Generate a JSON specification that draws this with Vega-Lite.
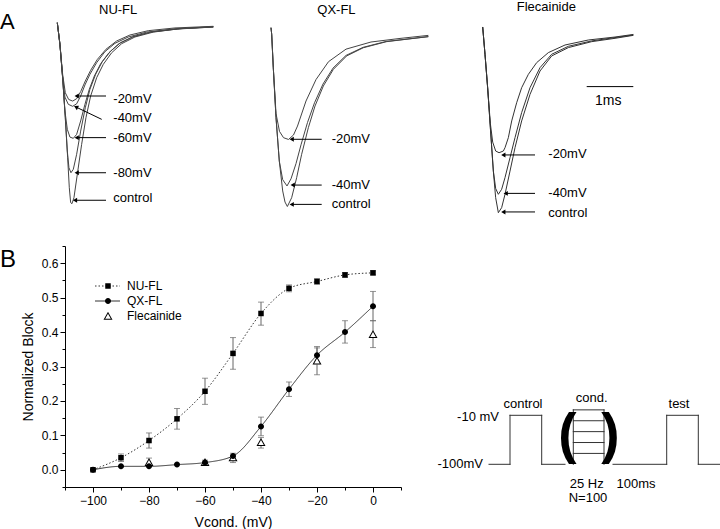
{
  "$schema": "https://vega.github.io/schema/vega-lite/v6.json",
  "padding": 0,
  "autosize": {"type": "pad"},
  "config": {
    "view": {"stroke": null},
    "font": "Liberation Sans",
    "axis": {"grid": false, "domainColor": "black", "tickColor": "black", "labelColor": "black", "titleColor": "black", "titleFontWeight": "normal", "labelFontSize": 12, "titleFontSize": 14, "labelOverlap": false, "labelFlush": false, "tickCount": 30}
  },
  "datasets": {
    "traces": [
      {"panel":"NU-FL","trace":"control","t":0,"I":0},{"panel":"NU-FL","trace":"control","t":0.053,"I":-0.12},{"panel":"NU-FL","trace":"control","t":0.107,"I":-0.304},{"panel":"NU-FL","trace":"control","t":0.16,"I":-0.525},{"panel":"NU-FL","trace":"control","t":0.207,"I":-0.746},{"panel":"NU-FL","trace":"control","t":0.24,"I":-0.912},{"panel":"NU-FL","trace":"control","t":0.267,"I":-0.994},{"panel":"NU-FL","trace":"control","t":0.293,"I":-1.0},{"panel":"NU-FL","trace":"control","t":0.333,"I":-0.967},{"panel":"NU-FL","trace":"control","t":0.4,"I":-0.838},{"panel":"NU-FL","trace":"control","t":0.487,"I":-0.672},{"panel":"NU-FL","trace":"control","t":0.573,"I":-0.525},{"panel":"NU-FL","trace":"control","t":0.667,"I":-0.405},{"panel":"NU-FL","trace":"control","t":0.787,"I":-0.304},{"panel":"NU-FL","trace":"control","t":0.92,"I":-0.23},{"panel":"NU-FL","trace":"control","t":1.087,"I":-0.166},{"panel":"NU-FL","trace":"control","t":1.287,"I":-0.116},{"panel":"NU-FL","trace":"control","t":1.553,"I":-0.079},{"panel":"NU-FL","trace":"control","t":1.92,"I":-0.052},{"panel":"NU-FL","trace":"control","t":2.453,"I":-0.033},{"panel":"NU-FL","trace":"control","t":3.12,"I":-0.022},
      {"panel":"NU-FL","trace":"-80mV","t":0,"I":0},{"panel":"NU-FL","trace":"-80mV","t":0.053,"I":-0.12},{"panel":"NU-FL","trace":"-80mV","t":0.107,"I":-0.304},{"panel":"NU-FL","trace":"-80mV","t":0.16,"I":-0.525},{"panel":"NU-FL","trace":"-80mV","t":0.2,"I":-0.709},{"panel":"NU-FL","trace":"-80mV","t":0.233,"I":-0.801},{"panel":"NU-FL","trace":"-80mV","t":0.273,"I":-0.829},{"panel":"NU-FL","trace":"-80mV","t":0.32,"I":-0.81},{"panel":"NU-FL","trace":"-80mV","t":0.387,"I":-0.727},{"panel":"NU-FL","trace":"-80mV","t":0.467,"I":-0.599},{"panel":"NU-FL","trace":"-80mV","t":0.56,"I":-0.47},{"panel":"NU-FL","trace":"-80mV","t":0.653,"I":-0.368},{"panel":"NU-FL","trace":"-80mV","t":0.767,"I":-0.285},{"panel":"NU-FL","trace":"-80mV","t":0.9,"I":-0.215},{"panel":"NU-FL","trace":"-80mV","t":1.067,"I":-0.157},{"panel":"NU-FL","trace":"-80mV","t":1.267,"I":-0.11},{"panel":"NU-FL","trace":"-80mV","t":1.533,"I":-0.076},{"panel":"NU-FL","trace":"-80mV","t":1.9,"I":-0.05},{"panel":"NU-FL","trace":"-80mV","t":2.433,"I":-0.033},{"panel":"NU-FL","trace":"-80mV","t":3.12,"I":-0.022},
      {"panel":"NU-FL","trace":"-60mV","t":0,"I":0},{"panel":"NU-FL","trace":"-60mV","t":0.053,"I":-0.12},{"panel":"NU-FL","trace":"-60mV","t":0.107,"I":-0.304},{"panel":"NU-FL","trace":"-60mV","t":0.153,"I":-0.488},{"panel":"NU-FL","trace":"-60mV","t":0.2,"I":-0.589},{"panel":"NU-FL","trace":"-60mV","t":0.253,"I":-0.632},{"panel":"NU-FL","trace":"-60mV","t":0.32,"I":-0.639},{"panel":"NU-FL","trace":"-60mV","t":0.387,"I":-0.617},{"panel":"NU-FL","trace":"-60mV","t":0.467,"I":-0.543},{"panel":"NU-FL","trace":"-60mV","t":0.553,"I":-0.451},{"panel":"NU-FL","trace":"-60mV","t":0.64,"I":-0.368},{"panel":"NU-FL","trace":"-60mV","t":0.74,"I":-0.295},{"panel":"NU-FL","trace":"-60mV","t":0.867,"I":-0.227},{"panel":"NU-FL","trace":"-60mV","t":1.033,"I":-0.166},{"panel":"NU-FL","trace":"-60mV","t":1.233,"I":-0.116},{"panel":"NU-FL","trace":"-60mV","t":1.5,"I":-0.079},{"panel":"NU-FL","trace":"-60mV","t":1.867,"I":-0.052},{"panel":"NU-FL","trace":"-60mV","t":2.4,"I":-0.035},{"panel":"NU-FL","trace":"-60mV","t":3.12,"I":-0.024},
      {"panel":"NU-FL","trace":"-40mV","t":0,"I":0},{"panel":"NU-FL","trace":"-40mV","t":0.053,"I":-0.12},{"panel":"NU-FL","trace":"-40mV","t":0.107,"I":-0.304},{"panel":"NU-FL","trace":"-40mV","t":0.153,"I":-0.411},{"panel":"NU-FL","trace":"-40mV","t":0.22,"I":-0.451},{"panel":"NU-FL","trace":"-40mV","t":0.307,"I":-0.462},{"panel":"NU-FL","trace":"-40mV","t":0.387,"I":-0.448},{"panel":"NU-FL","trace":"-40mV","t":0.467,"I":-0.405},{"panel":"NU-FL","trace":"-40mV","t":0.553,"I":-0.344},{"panel":"NU-FL","trace":"-40mV","t":0.653,"I":-0.285},{"panel":"NU-FL","trace":"-40mV","t":0.787,"I":-0.221},{"panel":"NU-FL","trace":"-40mV","t":0.953,"I":-0.16},{"panel":"NU-FL","trace":"-40mV","t":1.153,"I":-0.114},{"panel":"NU-FL","trace":"-40mV","t":1.42,"I":-0.079},{"panel":"NU-FL","trace":"-40mV","t":1.787,"I":-0.052},{"panel":"NU-FL","trace":"-40mV","t":2.32,"I":-0.035},{"panel":"NU-FL","trace":"-40mV","t":3.12,"I":-0.024},
      {"panel":"NU-FL","trace":"-20mV","t":0,"I":0},{"panel":"NU-FL","trace":"-20mV","t":0.053,"I":-0.12},{"panel":"NU-FL","trace":"-20mV","t":0.107,"I":-0.285},{"panel":"NU-FL","trace":"-20mV","t":0.16,"I":-0.387},{"panel":"NU-FL","trace":"-20mV","t":0.227,"I":-0.424},{"panel":"NU-FL","trace":"-20mV","t":0.307,"I":-0.433},{"panel":"NU-FL","trace":"-20mV","t":0.387,"I":-0.42},{"panel":"NU-FL","trace":"-20mV","t":0.467,"I":-0.381},{"panel":"NU-FL","trace":"-20mV","t":0.56,"I":-0.322},{"panel":"NU-FL","trace":"-20mV","t":0.667,"I":-0.263},{"panel":"NU-FL","trace":"-20mV","t":0.8,"I":-0.203},{"panel":"NU-FL","trace":"-20mV","t":0.973,"I":-0.147},{"panel":"NU-FL","trace":"-20mV","t":1.187,"I":-0.101},{"panel":"NU-FL","trace":"-20mV","t":1.453,"I":-0.068},{"panel":"NU-FL","trace":"-20mV","t":1.82,"I":-0.044},{"panel":"NU-FL","trace":"-20mV","t":2.353,"I":-0.029},{"panel":"NU-FL","trace":"-20mV","t":3.12,"I":-0.02},
      {"panel":"QX-FL","trace":"control","t":0,"I":0},{"panel":"QX-FL","trace":"control","t":0.014,"I":-0.037},{"panel":"QX-FL","trace":"control","t":0.046,"I":-0.224},{"panel":"QX-FL","trace":"control","t":0.1,"I":-0.503},{"panel":"QX-FL","trace":"control","t":0.166,"I":-0.746},{"panel":"QX-FL","trace":"control","t":0.234,"I":-0.913},{"panel":"QX-FL","trace":"control","t":0.28,"I":-0.975},{"panel":"QX-FL","trace":"control","t":0.327,"I":-1.0},{"panel":"QX-FL","trace":"control","t":0.413,"I":-0.951},{"panel":"QX-FL","trace":"control","t":0.513,"I":-0.839},{"panel":"QX-FL","trace":"control","t":0.613,"I":-0.708},{"panel":"QX-FL","trace":"control","t":0.747,"I":-0.559},{"panel":"QX-FL","trace":"control","t":0.88,"I":-0.438},{"panel":"QX-FL","trace":"control","t":1.047,"I":-0.326},{"panel":"QX-FL","trace":"control","t":1.247,"I":-0.233},{"panel":"QX-FL","trace":"control","t":1.513,"I":-0.158},{"panel":"QX-FL","trace":"control","t":1.847,"I":-0.112},{"panel":"QX-FL","trace":"control","t":2.313,"I":-0.078},{"panel":"QX-FL","trace":"control","t":3.147,"I":-0.05},
      {"panel":"QX-FL","trace":"-40mV","t":0,"I":0},{"panel":"QX-FL","trace":"-40mV","t":0.014,"I":-0.037},{"panel":"QX-FL","trace":"-40mV","t":0.046,"I":-0.224},{"panel":"QX-FL","trace":"-40mV","t":0.1,"I":-0.503},{"panel":"QX-FL","trace":"-40mV","t":0.166,"I":-0.746},{"panel":"QX-FL","trace":"-40mV","t":0.234,"I":-0.85},{"panel":"QX-FL","trace":"-40mV","t":0.32,"I":-0.885},{"panel":"QX-FL","trace":"-40mV","t":0.4,"I":-0.845},{"panel":"QX-FL","trace":"-40mV","t":0.5,"I":-0.76},{"panel":"QX-FL","trace":"-40mV","t":0.6,"I":-0.655},{"panel":"QX-FL","trace":"-40mV","t":0.73,"I":-0.53},{"panel":"QX-FL","trace":"-40mV","t":0.87,"I":-0.42},{"panel":"QX-FL","trace":"-40mV","t":1.04,"I":-0.315},{"panel":"QX-FL","trace":"-40mV","t":1.24,"I":-0.226},{"panel":"QX-FL","trace":"-40mV","t":1.5,"I":-0.155},{"panel":"QX-FL","trace":"-40mV","t":1.84,"I":-0.11},{"panel":"QX-FL","trace":"-40mV","t":2.3,"I":-0.077},{"panel":"QX-FL","trace":"-40mV","t":3.147,"I":-0.05},
      {"panel":"QX-FL","trace":"-20mV","t":0,"I":0},{"panel":"QX-FL","trace":"-20mV","t":0.014,"I":-0.037},{"panel":"QX-FL","trace":"-20mV","t":0.046,"I":-0.224},{"panel":"QX-FL","trace":"-20mV","t":0.1,"I":-0.48},{"panel":"QX-FL","trace":"-20mV","t":0.17,"I":-0.58},{"panel":"QX-FL","trace":"-20mV","t":0.25,"I":-0.615},{"panel":"QX-FL","trace":"-20mV","t":0.35,"I":-0.625},{"panel":"QX-FL","trace":"-20mV","t":0.45,"I":-0.6},{"panel":"QX-FL","trace":"-20mV","t":0.53,"I":-0.55},{"panel":"QX-FL","trace":"-20mV","t":0.7,"I":-0.41},{"panel":"QX-FL","trace":"-20mV","t":0.9,"I":-0.29},{"panel":"QX-FL","trace":"-20mV","t":1.15,"I":-0.19},{"panel":"QX-FL","trace":"-20mV","t":1.5,"I":-0.12},{"panel":"QX-FL","trace":"-20mV","t":2.0,"I":-0.08},{"panel":"QX-FL","trace":"-20mV","t":2.58,"I":-0.06},{"panel":"QX-FL","trace":"-20mV","t":3.147,"I":-0.043},
      {"panel":"Flecainide","trace":"control","t":0,"I":0},{"panel":"Flecainide","trace":"control","t":0.046,"I":-0.147},{"panel":"Flecainide","trace":"control","t":0.099,"I":-0.327},{"panel":"Flecainide","trace":"control","t":0.153,"I":-0.542},{"panel":"Flecainide","trace":"control","t":0.213,"I":-0.776},{"panel":"Flecainide","trace":"control","t":0.259,"I":-0.919},{"panel":"Flecainide","trace":"control","t":0.313,"I":-1.0},{"panel":"Flecainide","trace":"control","t":0.379,"I":-0.973},{"panel":"Flecainide","trace":"control","t":0.446,"I":-0.901},{"panel":"Flecainide","trace":"control","t":0.546,"I":-0.776},{"panel":"Flecainide","trace":"control","t":0.646,"I":-0.65},{"panel":"Flecainide","trace":"control","t":0.779,"I":-0.506},{"panel":"Flecainide","trace":"control","t":0.946,"I":-0.363},{"panel":"Flecainide","trace":"control","t":1.146,"I":-0.237},{"panel":"Flecainide","trace":"control","t":1.379,"I":-0.156},{"panel":"Flecainide","trace":"control","t":1.713,"I":-0.111},{"panel":"Flecainide","trace":"control","t":2.179,"I":-0.079},{"panel":"Flecainide","trace":"control","t":2.646,"I":-0.061},{"panel":"Flecainide","trace":"control","t":3.013,"I":-0.045},
      {"panel":"Flecainide","trace":"-40mV","t":0,"I":0},{"panel":"Flecainide","trace":"-40mV","t":0.046,"I":-0.147},{"panel":"Flecainide","trace":"-40mV","t":0.099,"I":-0.327},{"panel":"Flecainide","trace":"-40mV","t":0.153,"I":-0.542},{"panel":"Flecainide","trace":"-40mV","t":0.213,"I":-0.776},{"panel":"Flecainide","trace":"-40mV","t":0.26,"I":-0.87},{"panel":"Flecainide","trace":"-40mV","t":0.313,"I":-0.901},{"panel":"Flecainide","trace":"-40mV","t":0.379,"I":-0.874},{"panel":"Flecainide","trace":"-40mV","t":0.446,"I":-0.811},{"panel":"Flecainide","trace":"-40mV","t":0.546,"I":-0.704},{"panel":"Flecainide","trace":"-40mV","t":0.646,"I":-0.596},{"panel":"Flecainide","trace":"-40mV","t":0.779,"I":-0.461},{"panel":"Flecainide","trace":"-40mV","t":0.946,"I":-0.327},{"panel":"Flecainide","trace":"-40mV","t":1.146,"I":-0.219},{"panel":"Flecainide","trace":"-40mV","t":1.379,"I":-0.147},{"panel":"Flecainide","trace":"-40mV","t":1.713,"I":-0.104},{"panel":"Flecainide","trace":"-40mV","t":2.179,"I":-0.075},{"panel":"Flecainide","trace":"-40mV","t":2.646,"I":-0.057},{"panel":"Flecainide","trace":"-40mV","t":3.013,"I":-0.043},
      {"panel":"Flecainide","trace":"-20mV","t":0,"I":0},{"panel":"Flecainide","trace":"-20mV","t":0.046,"I":-0.147},{"panel":"Flecainide","trace":"-20mV","t":0.099,"I":-0.327},{"panel":"Flecainide","trace":"-20mV","t":0.153,"I":-0.52},{"panel":"Flecainide","trace":"-20mV","t":0.2,"I":-0.62},{"panel":"Flecainide","trace":"-20mV","t":0.26,"I":-0.668},{"panel":"Flecainide","trace":"-20mV","t":0.327,"I":-0.677},{"panel":"Flecainide","trace":"-20mV","t":0.413,"I":-0.668},{"panel":"Flecainide","trace":"-20mV","t":0.446,"I":-0.65},{"panel":"Flecainide","trace":"-20mV","t":0.513,"I":-0.596},{"panel":"Flecainide","trace":"-20mV","t":0.58,"I":-0.506},{"panel":"Flecainide","trace":"-20mV","t":0.679,"I":-0.408},{"panel":"Flecainide","trace":"-20mV","t":0.779,"I":-0.327},{"panel":"Flecainide","trace":"-20mV","t":0.913,"I":-0.255},{"panel":"Flecainide","trace":"-20mV","t":1.079,"I":-0.192},{"panel":"Flecainide","trace":"-20mV","t":1.313,"I":-0.138},{"panel":"Flecainide","trace":"-20mV","t":1.646,"I":-0.097},{"panel":"Flecainide","trace":"-20mV","t":2.113,"I":-0.07},{"panel":"Flecainide","trace":"-20mV","t":2.646,"I":-0.054},{"panel":"Flecainide","trace":"-20mV","t":3.013,"I":-0.04}
    ],
    "arrows": [
      {"panel":"NU-FL","label":"-20mV","t":0.974,"I":-0.405,"t2":0.388,"I2":-0.405,"tl":1.12,"Il":-0.42},
      {"panel":"NU-FL","label":"-40mV","t":0.888,"I":-0.534,"t2":0.374,"I2":-0.466,"tl":1.12,"Il":-0.525},
      {"panel":"NU-FL","label":"-60mV","t":0.974,"I":-0.635,"t2":0.388,"I2":-0.635,"tl":1.12,"Il":-0.637},
      {"panel":"NU-FL","label":"-80mV","t":0.974,"I":-0.829,"t2":0.388,"I2":-0.829,"tl":1.12,"Il":-0.829},
      {"panel":"NU-FL","label":"control","t":0.974,"I":-0.981,"t2":0.354,"I2":-0.981,"tl":1.12,"Il":-0.969},
      {"panel":"QX-FL","label":"-20mV","t":1.014,"I":-0.624,"t2":0.414,"I2":-0.624,"tl":1.214,"Il":-0.624},
      {"panel":"QX-FL","label":"-40mV","t":1.014,"I":-0.88,"t2":0.434,"I2":-0.88,"tl":1.214,"Il":-0.88},
      {"panel":"QX-FL","label":"control","t":1.014,"I":-0.988,"t2":0.414,"I2":-0.988,"tl":1.214,"Il":-0.988},
      {"panel":"Flecainide","label":"-20mV","t":1.046,"I":-0.689,"t2":0.412,"I2":-0.689,"tl":1.312,"Il":-0.682},
      {"panel":"Flecainide","label":"-40mV","t":1.046,"I":-0.896,"t2":0.46,"I2":-0.896,"tl":1.312,"Il":-0.892},
      {"panel":"Flecainide","label":"control","t":1.046,"I":-0.996,"t2":0.412,"I2":-0.996,"tl":1.312,"Il":-1.0}
    ],
    "block": [
      {"series":"NU-FL","V":-100,"mean":0,"lo":null,"hi":null},
      {"series":"NU-FL","V":-90,"mean":0.035,"lo":0.024,"hi":0.046},
      {"series":"NU-FL","V":-80,"mean":0.085,"lo":0.063,"hi":0.107},
      {"series":"NU-FL","V":-70,"mean":0.148,"lo":0.118,"hi":0.178},
      {"series":"NU-FL","V":-60,"mean":0.228,"lo":0.19,"hi":0.266},
      {"series":"NU-FL","V":-50,"mean":0.338,"lo":0.292,"hi":0.384},
      {"series":"NU-FL","V":-40,"mean":0.454,"lo":0.42,"hi":0.487},
      {"series":"NU-FL","V":-30,"mean":0.527,"lo":0.517,"hi":0.537},
      {"series":"NU-FL","V":-20,"mean":0.547,"lo":0.539,"hi":0.555},
      {"series":"NU-FL","V":-10,"mean":0.566,"lo":0.559,"hi":0.573},
      {"series":"NU-FL","V":0,"mean":0.572,"lo":0.566,"hi":0.578},
      {"series":"QX-FL","V":-100,"mean":0,"lo":null,"hi":null},
      {"series":"QX-FL","V":-90,"mean":0.01,"lo":null,"hi":null},
      {"series":"QX-FL","V":-80,"mean":0.01,"lo":null,"hi":null},
      {"series":"QX-FL","V":-70,"mean":0.015,"lo":null,"hi":null},
      {"series":"QX-FL","V":-60,"mean":0.021,"lo":null,"hi":null},
      {"series":"QX-FL","V":-50,"mean":0.04,"lo":null,"hi":null},
      {"series":"QX-FL","V":-40,"mean":0.126,"lo":0.099,"hi":0.153},
      {"series":"QX-FL","V":-30,"mean":0.234,"lo":0.213,"hi":0.255},
      {"series":"QX-FL","V":-20,"mean":0.333,"lo":0.308,"hi":0.358},
      {"series":"QX-FL","V":-10,"mean":0.4,"lo":0.368,"hi":0.433},
      {"series":"QX-FL","V":0,"mean":0.475,"lo":0.433,"hi":0.518},
      {"series":"Flecainide","V":-80,"mean":0.022,"lo":0.012,"hi":0.034},
      {"series":"Flecainide","V":-60,"mean":0.022,"lo":0.016,"hi":0.028},
      {"series":"Flecainide","V":-50,"mean":0.036,"lo":0.021,"hi":0.048},
      {"series":"Flecainide","V":-40,"mean":0.08,"lo":0.063,"hi":0.094},
      {"series":"Flecainide","V":-20,"mean":0.317,"lo":0.276,"hi":0.354},
      {"series":"Flecainide","V":0,"mean":0.394,"lo":0.355,"hi":0.433}
    ],
    "protocol": [
      {"ms":9,"ms2":30,"mV":-100,"mV2":-100},
      {"ms":30,"ms2":30,"mV":-100,"mV2":-10},
      {"ms":30,"ms2":61.7,"mV":-10,"mV2":-10},
      {"ms":61.7,"ms2":61.7,"mV":-10,"mV2":-100},
      {"ms":61.7,"ms2":85,"mV":-100,"mV2":-100},
      {"ms":93.3,"ms2":93.3,"mV":-100,"mV2":0},
      {"ms":124,"ms2":124,"mV":-100,"mV2":0},
      {"ms":93.3,"ms2":124,"mV":0,"mV2":0},
      {"ms":93.3,"ms2":124,"mV":-20,"mV2":-20},
      {"ms":93.3,"ms2":124,"mV":-40,"mV2":-40},
      {"ms":93.3,"ms2":124,"mV":-60,"mV2":-60},
      {"ms":93.3,"ms2":124,"mV":-80,"mV2":-80},
      {"ms":133,"ms2":186.7,"mV":-100,"mV2":-100},
      {"ms":186.7,"ms2":186.7,"mV":-100,"mV2":-10},
      {"ms":186.7,"ms2":218.3,"mV":-10,"mV2":-10},
      {"ms":218.3,"ms2":218.3,"mV":-10,"mV2":-100},
      {"ms":218.3,"ms2":240,"mV":-100,"mV2":-100}
    ],
    "protocolLabels": [
      {"text":"control","ms":43,"mV":11.3},
      {"text":"cond.","ms":111.7,"mV":22.3},
      {"text":"test","ms":199,"mV":11.3},
      {"text":"25 Hz","ms":106.7,"mV":-135.6},
      {"text":"N=100","ms":108,"mV":-161.4},
      {"text":"100ms","ms":156,"mV":-135.6}
    ],
    "protocolLevels": [
      {"text":"-10 mV","ms":19,"mV":-13.1},
      {"text":"-100mV","ms":3,"mV":-100}
    ],
    "brackets": [
      {"text":"(","ms":87.5,"mV":-46.2},
      {"text":")","ms":130.5,"mV":-46.2}
    ]
  },
  "spacing": 20,
  "resolve": {"legend": {"shape": "independent", "strokeDash": "independent"}},
  "vconcat": [
    {
      "bounds": "flush",
      "spacing": 45,
      "hconcat": [
        {
          "width": 155, "height": 200,
          "layer": [
            {"data": {"name": "traces"}, "transform": [{"filter": "datum.panel === 'NU-FL'"}],
             "mark": {"type": "line", "stroke": "#444", "strokeWidth": 1},
             "encoding": {"x": {"field": "t", "type": "quantitative", "scale": {"domain": [0.154, 3.254], "nice": false, "zero": false}, "axis": null},
                          "y": {"field": "I", "type": "quantitative", "scale": {"domain": [-1.068, 0.037], "nice": false, "zero": false}, "axis": null},
                          "detail": {"field": "trace"}}},
            {"data": {"name": "arrows"}, "transform": [{"filter": "datum.panel === 'NU-FL'"}],
             "mark": {"type": "rule", "color": "black", "strokeWidth": 1},
             "encoding": {"x": {"field": "t", "type": "quantitative"}, "x2": {"field": "t2"}, "y": {"field": "I", "type": "quantitative"}, "y2": {"field": "I2"}}},
            {"data": {"name": "arrows"}, "transform": [{"filter": "datum.panel === 'NU-FL'"}],
             "mark": {"type": "point", "shape": "triangle-left", "filled": true, "color": "black", "size": 24, "opacity": 1},
             "encoding": {"x": {"field": "t2", "type": "quantitative"}, "y": {"field": "I2", "type": "quantitative"},
                          "angle": {"condition": {"test": "datum.label === '-40mV'", "value": 26}, "value": 0}}},
            {"data": {"name": "arrows"}, "transform": [{"filter": "datum.panel === 'NU-FL'"}],
             "mark": {"type": "text", "align": "left", "baseline": "middle", "fontSize": 13, "color": "black"},
             "encoding": {"x": {"field": "tl", "type": "quantitative"}, "y": {"field": "Il", "type": "quantitative"}, "text": {"field": "label"}}},
            {"data": {"values": [{}]},
             "mark": {"type": "text", "text": "A", "align": "left", "baseline": "alphabetic", "fontSize": 22, "color": "black"},
             "encoding": {"x": {"datum": -1.146, "type": "quantitative"}, "y": {"datum": -0.0365, "type": "quantitative"}}},
            {"data": {"values": [{}]},
             "mark": {"type": "text", "text": "NU-FL", "align": "left", "baseline": "alphabetic", "fontSize": 13, "color": "black"},
             "encoding": {"x": {"datum": 0.834, "type": "quantitative"}, "y": {"datum": 0.0508, "type": "quantitative"}}}
          ]
        },
        {
          "width": 170, "height": 200,
          "layer": [
            {"data": {"name": "traces"}, "transform": [{"filter": "datum.panel === 'QX-FL'"}],
             "mark": {"type": "line", "stroke": "#444", "strokeWidth": 1},
             "encoding": {"x": {"field": "t", "type": "quantitative", "scale": {"domain": [-0.12, 3.28], "nice": false, "zero": false}, "axis": null},
                          "y": {"field": "I", "type": "quantitative", "scale": {"domain": [-1.053, 0.0654], "nice": false, "zero": false}, "axis": null},
                          "detail": {"field": "trace"}}},
            {"data": {"name": "arrows"}, "transform": [{"filter": "datum.panel === 'QX-FL'"}],
             "mark": {"type": "rule", "color": "black", "strokeWidth": 1},
             "encoding": {"x": {"field": "t", "type": "quantitative"}, "x2": {"field": "t2"}, "y": {"field": "I", "type": "quantitative"}, "y2": {"field": "I2"}}},
            {"data": {"name": "arrows"}, "transform": [{"filter": "datum.panel === 'QX-FL'"}],
             "mark": {"type": "point", "shape": "triangle-left", "filled": true, "color": "black", "size": 24, "opacity": 1},
             "encoding": {"x": {"field": "t2", "type": "quantitative"}, "y": {"field": "I2", "type": "quantitative"}}},
            {"data": {"name": "arrows"}, "transform": [{"filter": "datum.panel === 'QX-FL'"}],
             "mark": {"type": "text", "align": "left", "baseline": "middle", "fontSize": 13, "color": "black"},
             "encoding": {"x": {"field": "tl", "type": "quantitative"}, "y": {"field": "Il", "type": "quantitative"}, "text": {"field": "label"}}},
            {"data": {"values": [{}]},
             "mark": {"type": "text", "text": "QX-FL", "align": "left", "baseline": "alphabetic", "fontSize": 13, "color": "black"},
             "encoding": {"x": {"datum": 0.926, "type": "quantitative"}, "y": {"datum": 0.0766, "type": "quantitative"}}}
          ]
        },
        {
          "width": 170, "height": 200,
          "layer": [
            {"data": {"name": "traces"}, "transform": [{"filter": "datum.panel === 'Flecainide'"}],
             "mark": {"type": "line", "stroke": "#333", "strokeWidth": 1},
             "encoding": {"x": {"field": "t", "type": "quantitative", "scale": {"domain": [-0.054, 3.346], "nice": false, "zero": false}, "axis": null},
                          "y": {"field": "I", "type": "quantitative", "scale": {"domain": [-1.0178, 0.0592], "nice": false, "zero": false}, "axis": null},
                          "detail": {"field": "trace"}}},
            {"data": {"name": "arrows"}, "transform": [{"filter": "datum.panel === 'Flecainide'"}],
             "mark": {"type": "rule", "color": "black", "strokeWidth": 1},
             "encoding": {"x": {"field": "t", "type": "quantitative"}, "x2": {"field": "t2"}, "y": {"field": "I", "type": "quantitative"}, "y2": {"field": "I2"}}},
            {"data": {"name": "arrows"}, "transform": [{"filter": "datum.panel === 'Flecainide'"}],
             "mark": {"type": "point", "shape": "triangle-left", "filled": true, "color": "black", "size": 24, "opacity": 1},
             "encoding": {"x": {"field": "t2", "type": "quantitative"}, "y": {"field": "I2", "type": "quantitative"}}},
            {"data": {"name": "arrows"}, "transform": [{"filter": "datum.panel === 'Flecainide'"}],
             "mark": {"type": "text", "align": "left", "baseline": "middle", "fontSize": 13, "color": "black"},
             "encoding": {"x": {"field": "tl", "type": "quantitative"}, "y": {"field": "Il", "type": "quantitative"}, "text": {"field": "label"}}},
            {"data": {"values": [{}]},
             "mark": {"type": "rule", "color": "black", "strokeWidth": 1},
             "encoding": {"x": {"datum": 2.08, "type": "quantitative"}, "x2": {"datum": 3.012}, "y": {"datum": -0.321, "type": "quantitative"}}},
            {"data": {"values": [{}]},
             "mark": {"type": "text", "text": "1ms", "align": "center", "baseline": "middle", "fontSize": 14, "color": "black"},
             "encoding": {"x": {"datum": 2.512, "type": "quantitative"}, "y": {"datum": -0.398, "type": "quantitative"}}},
            {"data": {"values": [{}]},
             "mark": {"type": "text", "text": "Flecainide", "align": "left", "baseline": "alphabetic", "fontSize": 13, "color": "black"},
             "encoding": {"x": {"datum": 0.68, "type": "quantitative"}, "y": {"datum": 0.0862, "type": "quantitative"}}}
          ]
        }
      ]
    },
    {
      "bounds": "flush",
      "spacing": 80,
      "resolve": {"legend": {"shape": "independent", "strokeDash": "independent"}},
      "hconcat": [
        {
          "width": 336, "height": 241,
          "layer": [
            {"data": {"name": "block"},
             "mark": {"type": "rule", "color": "#666", "strokeWidth": 1},
             "encoding": {"x": {"field": "V", "type": "quantitative", "scale": {"domain": [-110, 10], "nice": false, "zero": false}},
                          "y": {"field": "lo", "type": "quantitative", "scale": {"domain": [-0.05, 0.65], "nice": false, "zero": false}},
                          "y2": {"field": "hi"}}},
            {"data": {"name": "block"},
             "mark": {"type": "tick", "orient": "horizontal", "color": "#666", "size": 6, "thickness": 1},
             "encoding": {"x": {"field": "V", "type": "quantitative"}, "y": {"field": "lo", "type": "quantitative"}}},
            {"data": {"name": "block"},
             "mark": {"type": "tick", "orient": "horizontal", "color": "#666", "size": 6, "thickness": 1},
             "encoding": {"x": {"field": "V", "type": "quantitative"}, "y": {"field": "hi", "type": "quantitative"}}},
            {"data": {"name": "block"}, "transform": [{"filter": "datum.series !== 'Flecainide'"}],
             "mark": {"type": "line", "interpolate": "monotone", "color": "#333", "strokeWidth": 1},
             "encoding": {"x": {"field": "V", "type": "quantitative", "scale": {"domain": [-110, 10], "nice": false, "zero": false},
                                "axis": {"values": [-110,-100,-90,-80,-70,-60,-50,-40,-30,-20,-10,0,10], "labelExpr": "datum.value % 20 === 0 ? datum.label : ''",
                                         "tickSize": {"condition": {"test": "datum.value % 20 === 0", "value": 5}, "value": 3},
                                         "title": "Vcond. (mV)", "titlePadding": 9, "labelPadding": 3}},
                          "y": {"field": "mean", "type": "quantitative", "scale": {"domain": [-0.05, 0.65], "nice": false, "zero": false},
                                "axis": {"values": [-0.05,0,0.05,0.1,0.15,0.2,0.25,0.3,0.35,0.4,0.45,0.5,0.55,0.6,0.65], "format": ".1f",
                                         "labelExpr": "abs(round(datum.value*20)) % 2 === 0 ? datum.label : ''",
                                         "tickSize": {"condition": {"test": "abs(round(datum.value*20)) % 2 === 0", "value": 5}, "value": 3},
                                         "title": "Normalized Block", "titlePadding": 6, "labelPadding": 2}},
                          "strokeDash": {"field": "series", "type": "nominal", "scale": {"domain": ["NU-FL", "QX-FL"], "range": [[1.5, 2], [1, 0]]},
                                         "legend": {"orient": "none", "legendX": 29.5, "legendY": 33.75, "title": null, "direction": "vertical", "padding": 0,
                                                    "symbolType": "stroke", "symbolSize": 625, "symbolStrokeWidth": 1, "symbolStrokeColor": "#333",
                                                    "clipHeight": 12.5, "rowPadding": 2, "labelOffset": 5, "labelFontSize": 12, "labelOpacity": 0}}}},
            {"data": {"name": "block"}, "transform": [{"filter": "datum.series === 'Flecainide'"}],
             "mark": {"type": "point", "shape": "M0,-0.85L0.9,0.75L-0.9,0.75Z", "filled": true, "color": "white", "size": 100, "opacity": 1},
             "encoding": {"x": {"field": "V", "type": "quantitative"}, "y": {"field": "mean", "type": "quantitative"}}},
            {"data": {"name": "block"},
             "mark": {"type": "point", "filled": true, "color": "black", "size": 100, "opacity": 1},
             "encoding": {"x": {"field": "V", "type": "quantitative"}, "y": {"field": "mean", "type": "quantitative"},
                          "shape": {"field": "series", "type": "nominal",
                                    "scale": {"domain": ["NU-FL", "QX-FL", "Flecainide"],
                                              "range": ["M-0.55,-0.55H0.55V0.55H-0.55Z", "M-0.6,0A0.6,0.6,0,1,0,0.6,0A0.6,0.6,0,1,0,-0.6,0Z", "M0,-0.85L0.9,0.75L-0.9,0.75ZM0,-0.44L-0.56,0.55L0.56,0.55Z"]},
                                    "legend": {"orient": "none", "legendX": 37, "legendY": 33.75, "title": null, "direction": "vertical", "padding": 0,
                                               "symbolSize": 100, "clipHeight": 12.5, "rowPadding": 2, "labelOffset": 13, "labelFontSize": 12, "labelColor": "black",
                                               "symbolFillColor": "black", "symbolStrokeWidth": 0, "symbolOpacity": 1}}}},
            {"data": {"values": [{}]},
             "mark": {"type": "text", "text": "B", "align": "left", "baseline": "alphabetic", "fontSize": 24, "color": "black"},
             "encoding": {"x": {"datum": -133.2, "type": "quantitative"}, "y": {"datum": 0.589, "type": "quantitative"}}}
          ]
        },
        {
          "width": 239, "height": 260,
          "layer": [
            {"data": {"name": "protocol"},
             "mark": {"type": "rule", "color": "#333", "strokeWidth": 1, "strokeCap": "square"},
             "encoding": {"x": {"field": "ms", "type": "quantitative", "scale": {"domain": [1, 240], "nice": false, "zero": false}, "axis": null},
                          "x2": {"field": "ms2"},
                          "y": {"field": "mV", "type": "quantitative", "scale": {"domain": [-176.6, 301], "nice": false, "zero": false}, "axis": null},
                          "y2": {"field": "mV2"}}},
            {"data": {"name": "protocolLabels"},
             "mark": {"type": "text", "align": "center", "baseline": "middle", "fontSize": 13, "color": "black"},
             "encoding": {"x": {"field": "ms", "type": "quantitative"}, "y": {"field": "mV", "type": "quantitative"}, "text": {"field": "text"}}},
            {"data": {"name": "protocolLevels"},
             "mark": {"type": "text", "align": "right", "baseline": "middle", "fontSize": 13, "color": "black"},
             "encoding": {"x": {"field": "ms", "type": "quantitative"}, "y": {"field": "mV", "type": "quantitative"}, "text": {"field": "text"}}},
            {"data": {"name": "brackets"},
             "mark": {"type": "text", "align": "center", "baseline": "middle", "fontSize": 55, "fontWeight": "bold", "color": "black"},
             "encoding": {"x": {"field": "ms", "type": "quantitative"}, "y": {"field": "mV", "type": "quantitative"}, "text": {"field": "text"}}}
          ]
        }
      ]
    }
  ]
}
